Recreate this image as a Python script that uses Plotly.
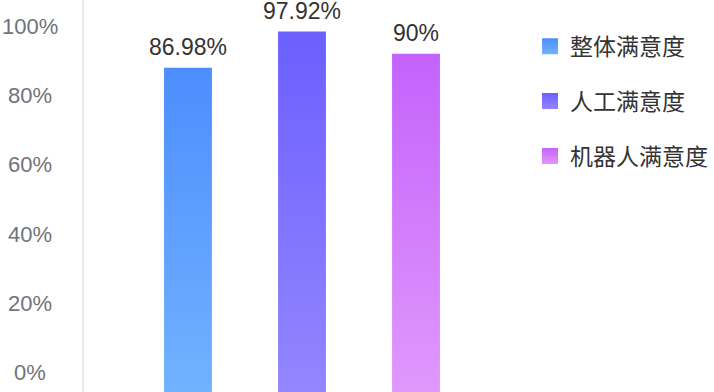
import plotly.graph_objects as go

categories = ["整体满意度", "人工满意度", "机器人满意度"]
values = [88.0, 98.4, 92.0]
value_labels = ["86.98%", "97.92%", "90%"]
tick_values = [0, 20, 40, 60, 80, 100]
tick_labels = ["0%", "20%", "40%", "60%", "80%", "100%"]
top_colors = ["#4d8dfe", "#6b5ffe", "#c462fb"]
bottom_colors = ["#71b2ff", "#9386ff", "#e098fc"]

BASE = -5.48
BAR_W = 0.42
FONT = "Liberation Sans, Noto Sans CJK SC, sans-serif"

fig = go.Figure()
for i, (cat, v) in enumerate(zip(categories, values)):
    x0, x1 = i - BAR_W / 2, i + BAR_W / 2
    fig.add_trace(go.Scatter(
        x=[x0, x1, x1, x0, x0], y=[BASE, BASE, v, v, BASE],
        mode="lines", line=dict(width=0), fill="toself",
        fillgradient=dict(type="vertical",
                          colorscale=[[0, bottom_colors[i]], [1, top_colors[i]]]),
        showlegend=False, hoverinfo="skip"))
    fig.add_annotation(x=i, y=v, xref="x", yref="y", text=value_labels[i],
                       showarrow=False, yanchor="bottom", yshift=6,
                       font=dict(family=FONT, size=23, color="#333333"))

for i, cat in enumerate(categories):
    fig.add_trace(go.Scatter(
        x=[None], y=[None], mode="markers", name=cat, legendgroup=cat,
        marker=dict(symbol="square", size=16, color=top_colors[i],
                    gradient=dict(type="vertical", color=bottom_colors[i]))))

for tv, tl in zip(tick_values, tick_labels):
    fig.add_annotation(x=-0.1239, y=tv, xref="paper", yref="y", text=tl,
                       showarrow=False, xanchor="center", yanchor="middle",
                       font=dict(family=FONT, size=22, color="#6f747c"))

fig.update_layout(
    width=714, height=392,
    margin=dict(l=84, r=194, t=0, b=0, autoexpand=False),
    paper_bgcolor="white", plot_bgcolor="white",
    xaxis=dict(range=[-0.912, 2.912], visible=False),
    yaxis=dict(range=[BASE, 107.5], showgrid=False, zeroline=False,
               showticklabels=False, showline=True, linecolor="#e8e8e8",
               linewidth=2, ticks="", automargin=False),
    legend=dict(x=1.023, y=0.937, xanchor="left", yanchor="top",
                tracegroupgap=22, itemsizing="trace",
                font=dict(family=FONT, size=23, color="#333333")),
)

fig.write_html("out.html", config={"displayModeBar": False},
               post_script="document.body.style.margin='0';")
